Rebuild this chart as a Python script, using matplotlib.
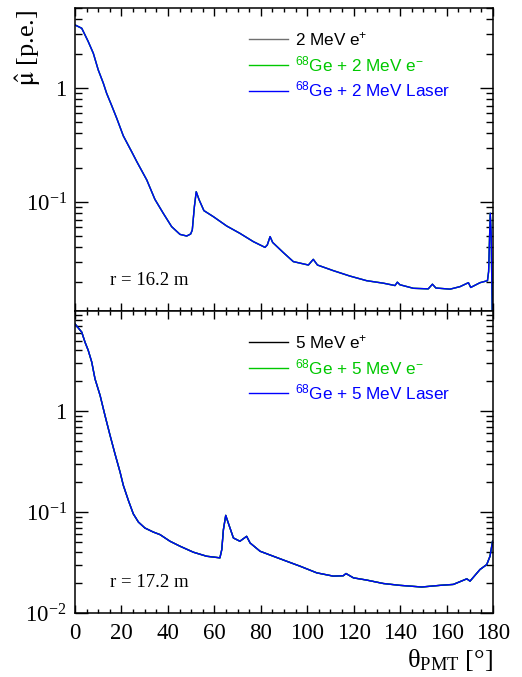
import math

import matplotlib
matplotlib.use("Agg")
import matplotlib.pyplot as plt
from matplotlib.ticker import FixedLocator, FuncFormatter, LogLocator, NullFormatter, MultipleLocator

plt.rcParams["font.family"] = ["Liberation Serif", "DejaVu Serif"]
plt.rcParams["mathtext.fontset"] = "stix"

SANS = ["Liberation Sans", "DejaVu Sans"]
C_GE, C_LASER = "#00c800", "#0000ff"

# 2 MeV, r = 16.2 m (the three samples overlap)
theta_2mev = [0, 2.9, 4.3, 5.7, 7.9, 10.0, 12.2, 13.6, 15.8, 18.0, 20.8, 24.4, 26.6, 30.9,
              34.4, 38.0, 41.6, 45.2, 48.1, 49.8, 50.5, 51.4, 52.2, 53.4, 55.5, 59.6, 65.3,
              71.0, 76.8, 81.8, 82.8, 84.0, 85.1, 89.7, 94.0, 100.5, 102.6, 104.4, 111.2,
              118.4, 125.6, 132.8, 137.8, 138.8, 139.9, 145.7, 152.1, 153.9, 155.4, 161.5,
              165.8, 169.4, 170.4, 174.4, 177.6, 178.1, 178.8, 179.2, 179.7]
mu_2mev = [3.57, 3.34, 2.92, 2.55, 2.01, 1.44, 1.10, 0.90, 0.70, 0.54, 0.38, 0.276,
           0.226, 0.156, 0.1055, 0.0796, 0.0608, 0.052, 0.0503, 0.0524, 0.0568, 0.091, 0.123,
           0.105, 0.084, 0.0743, 0.0616, 0.0531, 0.0449, 0.040, 0.042, 0.0497, 0.0442, 0.036,
           0.030, 0.028, 0.0314, 0.028, 0.025, 0.0224, 0.0204, 0.0194, 0.0185, 0.0198, 0.0188,
           0.0175, 0.0173, 0.019, 0.0176, 0.0172, 0.0181, 0.0196, 0.0178, 0.0196, 0.0204,
           0.0245, 0.0796, 0.053, 0.009]

# 5 MeV, r = 17.2 m
theta_5mev = [0, 2.9, 4.3, 5.7, 7.2, 8.6, 10.8, 12.9, 15.1, 17.2, 19.4, 20.8, 23.0, 25.1,
              27.3, 30.1, 33.7, 36.6, 40.9, 45.2, 51.0, 56.7, 62.4, 63.2, 63.9, 64.9, 66.0,
              68.2, 71.0, 73.9, 75.4, 79.7, 85.4, 91.1, 96.9, 104.1, 111.2, 115.5, 116.7,
              119.9, 125.6, 132.8, 139.9, 149.3, 157.2, 162.9, 168.7, 170.1, 174.4, 177.3,
              178.7, 179.8]
mu_5mev = [7.3, 6.05, 4.82, 3.99, 3.06, 2.09, 1.43, 0.906, 0.574, 0.378, 0.249, 0.184, 0.130,
           0.096, 0.0796, 0.0695, 0.0634, 0.0598, 0.0514, 0.0459, 0.040, 0.0365, 0.0352,
           0.0425, 0.0669, 0.0927, 0.0779, 0.0554, 0.0514, 0.0575, 0.0494, 0.0409, 0.0365,
           0.0326, 0.0291, 0.0250, 0.0232, 0.0234, 0.0246, 0.0223, 0.0212, 0.0196, 0.0188,
           0.0181, 0.0188, 0.0192, 0.0218, 0.0207, 0.0270, 0.0302, 0.0365, 0.0514]

labels_2mev = [r"2 MeV e$\mathregular{^{+}}$", r"$\mathregular{^{68}}$Ge + 2 MeV e$\mathregular{^{-}}$",
               r"$\mathregular{^{68}}$Ge + 2 MeV Laser"]
labels_5mev = [r"5 MeV e$\mathregular{^{+}}$", r"$\mathregular{^{68}}$Ge + 5 MeV e$\mathregular{^{-}}$",
               r"$\mathregular{^{68}}$Ge + 5 MeV Laser"]
radius_text = ["r = 16.2 m", "r = 17.2 m"]


def ylab(v, pos):
    if abs(v - 1) < 1e-9:
        return "1"
    return r"$\mathregular{10^{%d}}$" % int(round(math.log10(v)))


fig = plt.figure(figsize=(5.22, 6.77), dpi=100)
ax1 = fig.add_axes([0.1437, 0.5406, 0.8008, 0.4476])
ax2 = fig.add_axes([0.1437, 0.0945, 0.8008, 0.4461])

panels = [(ax1, theta_2mev, mu_2mev, labels_2mev, (0.01106, 5.03), radius_text[0], "#707070"),
          (ax2, theta_5mev, mu_5mev, labels_5mev, (0.01, 9.8), radius_text[1], "#000000")]

for ax, th, mu, labs, ylim, rtxt, c_ep in panels:
    for c, lab in zip((c_ep, C_GE, C_LASER), labs):
        ax.plot(th, mu, color=c, lw=1.0, label=lab)
    ax.set_yscale("log")
    ax.set_xlim(0, 180)
    ax.set_ylim(*ylim)
    ax.xaxis.set_major_locator(MultipleLocator(20))
    ax.xaxis.set_minor_locator(MultipleLocator(5))
    ax.yaxis.set_major_locator(FixedLocator([0.01, 0.1, 1]))
    ax.yaxis.set_minor_locator(LogLocator(base=10, subs=range(2, 10)))
    ax.yaxis.set_major_formatter(FuncFormatter(ylab))
    ax.yaxis.set_minor_formatter(NullFormatter())
    ax.tick_params(which="both", direction="in", top=True, right=True, width=1.0)
    ax.tick_params(axis="x", which="major", length=5.8, labelsize=16.5, pad=7)
    ax.tick_params(axis="x", which="minor", length=2.9)
    ax.tick_params(axis="y", which="major", length=9.4, labelsize=16.5, pad=6)
    ax.tick_params(axis="y", which="minor", length=5)
    for s in ax.spines.values():
        s.set_linewidth(1.1)
    ax.text(0.084, 0.102, rtxt, transform=ax.transAxes, fontsize=13.5, va="center", ha="left")
    leg = ax.legend(loc="upper left", bbox_to_anchor=(0.416, 0.926), frameon=False,
                    prop={"family": SANS, "size": 12.3}, handlelength=2.3,
                    handletextpad=0.4, labelspacing=0.33, borderpad=0, borderaxespad=0)
    for t, c in zip(leg.get_texts(), ("#000000", C_GE, C_LASER)):
        t.set_color(c)

ax1.tick_params(axis="x", labelbottom=False)

fig.text(0.054, 1 - 10 / 677, r"$\hat{\mathrm{\mu}}$ [p.e.]", rotation=90, ha="center", va="top",
         fontsize=19)
fig.text(493 / 522, 1 - 660 / 677, r"θ$\mathregular{_{PMT}}$ [°]", ha="right", va="center",
         fontsize=19)

fig.savefig("out.png", dpi=100)
